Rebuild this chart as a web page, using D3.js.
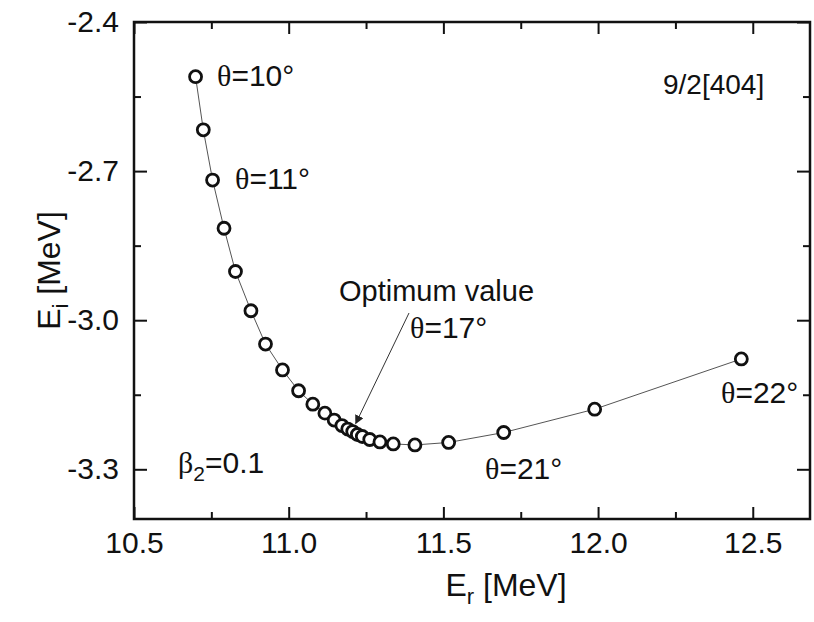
<!DOCTYPE html>
<html lang="en">

<head>
  <meta charset="UTF-8" />
  <title>Ei vs Er</title>
  <style>
    body { margin: 0; background: #fff; }
    text { font-family: Arial, "Liberation Sans", sans-serif; fill: #111; }
  </style>
</head>

<body>

  <div id="chart"></div>

  <script src="https://d3js.org/d3.v7.min.js"></script>

  <script>

    // data (theta = 10 .. 22 deg, step 0.5)
    var er = [10.699, 10.724, 10.754, 10.791, 10.828, 10.878, 10.925, 10.980, 11.032, 11.078,
      11.117, 11.147, 11.172, 11.191, 11.207, 11.222, 11.238, 11.262, 11.295, 11.338,
      11.408, 11.517, 11.695, 11.989, 12.463]
    var ei = [-2.510, -2.617, -2.718, -2.815, -2.902, -2.981, -3.048, -3.100, -3.142, -3.169,
      -3.187, -3.201, -3.212, -3.219, -3.224, -3.230, -3.234, -3.240, -3.245, -3.249,
      -3.251, -3.246, -3.226, -3.179, -3.078]

    var xTicks = [10.5, 11.0, 11.5, 12.0, 12.5]
    var xMinor = [10.75, 11.25, 11.75, 12.25]
    var yTicks = [-2.4, -2.7, -3.0, -3.3]
    var yMinor = [-2.55, -2.85, -3.15]

    var data = er.map(function (d, i) { return { x: d, y: ei[i] } })

    var mLeft = 134, mRight = 810, mTop = 22, mBottom = 519
    var width = mRight - mLeft, height = mBottom - mTop

    var x = d3.scaleLinear().domain([10.5, 12.685]).range([0, width])
    var y = d3.scaleLinear().domain([-3.4, -2.4]).range([height, 0])

    var svg = d3.select("#chart")
      .append("svg")
      .attr("width", 814)
      .attr("height", 622)

    var g = svg.append("g")
      .attr("transform", "translate(" + mLeft + "," + mTop + ")")

    var fmt = function (d) { return d.toFixed(1) }

    // axes, ticks pointing inward
    g.append("g").attr("transform", "translate(0," + height + ")")
      .call(d3.axisBottom(x).tickValues(xTicks).tickFormat(fmt).tickSize(-12).tickPadding(13))
    g.append("g").attr("transform", "translate(0," + height + ")")
      .call(d3.axisBottom(x).tickValues(xMinor).tickFormat("").tickSize(-7))
    g.append("g")
      .call(d3.axisTop(x).tickValues(xTicks).tickFormat("").tickSize(-12))
    g.append("g")
      .call(d3.axisTop(x).tickValues(xMinor).tickFormat("").tickSize(-7))

    g.append("g")
      .call(d3.axisLeft(y).tickValues(yTicks).tickFormat(fmt).tickSize(-13).tickPadding(15))
    g.append("g")
      .call(d3.axisLeft(y).tickValues(yMinor).tickFormat("").tickSize(-7))
    g.append("g").attr("transform", "translate(" + width + ",0)")
      .call(d3.axisRight(y).tickValues(yTicks).tickFormat("").tickSize(-13))
    g.append("g").attr("transform", "translate(" + width + ",0)")
      .call(d3.axisRight(y).tickValues(yMinor).tickFormat("").tickSize(-7))

    g.selectAll(".domain").remove()
    g.selectAll(".tick line").attr("stroke", "#111").attr("stroke-width", 2)
    g.selectAll(".tick text")
      .style("font-size", "30px")
      .style("font-family", "Arial, 'Liberation Sans', sans-serif")
      .attr("fill", "#111")

    g.append("rect")
      .attr("width", width)
      .attr("height", height)
      .attr("fill", "none")
      .attr("stroke", "#111")
      .attr("stroke-width", 2.5)

    // curve + open circles
    var line = d3.line()
      .x(function (d) { return x(d.x) })
      .y(function (d) { return y(d.y) })

    g.append("path")
      .datum(data)
      .attr("d", line)
      .attr("fill", "none")
      .attr("stroke", "#555")
      .attr("stroke-width", 1)

    g.selectAll("circle")
      .data(data)
      .enter().append("circle")
      .attr("cx", function (d) { return x(d.x) })
      .attr("cy", function (d) { return y(d.y) })
      .attr("r", 6)
      .attr("fill", "#fff")
      .attr("stroke", "#111")
      .attr("stroke-width", 2.8)

    // annotations
    var theta = function (px, py, label) {
      var t = svg.append("text").attr("x", px).attr("y", py).style("font-size", "30px")
      t.append("tspan").style("font-family", "'Liberation Serif', 'Times New Roman', serif").text("\u03b8")
      t.append("tspan").text("=" + label + "\u00b0")
    }
    theta(217, 86, "10")
    theta(235, 189, "11")
    theta(410, 338, "17")
    theta(485, 479, "21")
    theta(721, 403, "22")

    svg.append("text").attr("x", 339).attr("y", 301).style("font-size", "29px").text("Optimum value")

    svg.append("text").attr("x", 663).attr("y", 94).style("font-size", "28px").text("9/2[404]")

    var beta = svg.append("text").attr("x", 178).attr("y", 473).style("font-size", "30px")
    beta.append("tspan").style("font-family", "'Liberation Serif', 'Times New Roman', serif").text("\u03b2")
    beta.append("tspan").attr("dy", 8).style("font-size", "21px").text("2")
    beta.append("tspan").attr("dy", -8).text("=0.1")

    // arrow to the optimum point
    svg.append("defs").append("marker")
      .attr("id", "head")
      .attr("viewBox", "0 0 10 10")
      .attr("refX", 9).attr("refY", 5)
      .attr("markerWidth", 9).attr("markerHeight", 9)
      .attr("markerUnits", "userSpaceOnUse")
      .attr("orient", "auto")
      .append("path").attr("d", "M0,0 L10,5 L0,10 z").attr("fill", "#222")

    var opt = data[14]
    svg.append("line")
      .attr("x1", 409).attr("y1", 313)
      .attr("x2", mLeft + x(opt.x) + 3).attr("y2", mTop + y(opt.y) - 8)
      .attr("stroke", "#333").attr("stroke-width", 1)
      .attr("marker-end", "url(#head)")

    // axis titles
    var xt = svg.append("text").attr("x", 506).attr("y", 596)
      .attr("text-anchor", "middle").style("font-size", "32px")
    xt.append("tspan").text("E")
    xt.append("tspan").attr("dy", 8).style("font-size", "22px").text("r")
    xt.append("tspan").attr("dy", -8).text(" [MeV]")

    var yt = svg.append("text")
      .attr("transform", "translate(60," + (mTop + height / 2) + ") rotate(-90)")
      .attr("text-anchor", "middle").style("font-size", "32px")
    yt.append("tspan").text("E")
    yt.append("tspan").attr("dy", 8).style("font-size", "22px").text("i")
    yt.append("tspan").attr("dy", -8).text(" [MeV]")

  </script>
</body>

</html>
